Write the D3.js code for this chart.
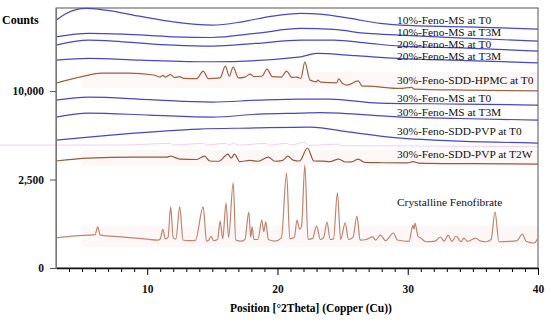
<!DOCTYPE html>
<html>
<head>
<meta charset="utf-8">
<script src="https://cdn.jsdelivr.net/npm/d3@7/dist/d3.min.js"></script>
<style>
  body { margin: 0; background: #fff; }
  svg { display: block; }
  text { font-family: "Liberation Serif", "Times New Roman", serif; }
</style>
</head>
<body>
<div id="chart"></div>
<script>
// ---- data: [2theta, counts] ----
const feno10T0 = [[3.0,19630],[3.8,20710],[5.3,21530],[6.8,21250],[9.4,20270],[12.0,19370],[15.0,18850],[17.3,19370],[19.6,20270],[21.8,20710],[23.3,20590],[25.6,19900],[27.9,19110],[29.4,18850],[34.5,18590],[40.0,18230]];
const feno10T3M = [[3.0,17080],[5.5,17580],[8.1,17480],[12.0,17080],[15.0,16980],[18.3,17580],[21.8,18340],[24.3,18180],[26.9,17580],[29.4,17330],[34.5,16880],[40.0,16440]];
const feno20T0 = [[3.0,15870],[5.5,16590],[8.1,16350],[12.0,15870],[15.0,15730],[18.3,16110],[21.8,16590],[24.3,16590],[26.9,16160],[29.4,15730],[34.5,15450],[40.0,15030]];
const feno20T3M = [[3.0,13810],[5.5,14040],[9.4,13810],[15.0,13590],[21.8,14250],[23.0,14710],[26.0,14400],[29.2,14040],[34.5,13750],[40.0,13450]];
const hpmcT0 = [[3.0,10920],[5.0,11700],[6.5,12140],[8.5,12140],[10.5,11900],[11.0,11650],[11.2,11850],[11.4,11650],[11.8,11950],[12.1,11600],[12.5,11700],[12.8,11500],
  [13.8,11450],[14.3,12390],[14.7,11450],[15.6,11550],[16.0,13020],[16.3,11750],[16.6,12900],[17.0,11550],[17.5,11650],[17.9,12010],[18.2,11700],[18.8,11750],[19.2,12640],
  [19.6,11700],[20.3,11650],[20.7,12390],[21.1,11600],[21.5,11650],[21.8,11500],[22.1,13540],[22.5,11280],[23.0,11080],[23.1,11280],[23.3,11050],[24.55,10960],[24.7,11420],
  [25.0,10880],[25.35,10690],[26.2,11200],[26.5,10570],[26.9,10570],[29.4,10300],[30.3,10420],[30.5,10230],[34.5,10110],[40.0,10030]];
const feno30T0 = [[3.0,9010],[5.5,9330],[10.2,9060],[15.0,8800],[18.6,9010],[21.8,9120],[24.0,9120],[27.8,8690],[34.0,8590],[40.0,8480]];
const feno30T3M = [[3.0,7280],[5.5,7670],[10.2,7470],[15.0,7280],[18.6,7570],[21.8,7670],[23.3,7720],[29.4,7280],[34.0,7140],[40.0,6990]];
const pvpT0 = [[3.0,5230],[5.5,5480],[8.1,5730],[14.0,6170],[17.9,6260],[22.5,6350],[25.6,5900],[28.6,5480],[34.0,5150],[40.0,4990]];
const pvpT2W = [[3.0,3660],[5.5,3860],[9.0,3930],[11.5,3930],[11.8,4000],[12.5,3790],[13.8,3760],[14.4,4000],[14.8,3660],[15.5,3640],[16.2,4150],[16.45,3850],[16.7,4150],
  [17.1,3620],[17.9,3700],[18.5,3640],[19.3,3930],[19.8,3640],[20.4,3700],[20.8,4000],[21.2,3720],[21.7,3660],[22.3,4600],[22.8,3660],[23.5,3650],[24.0,3620],[24.7,3790],
  [25.2,3590],[25.7,3600],[26.2,3790],[26.7,3560],[28.0,3540],[30.0,3530],[30.4,3620],[30.8,3520],[35.0,3480],[40.0,3450]];
const crystalline = [[3.0,290],[4.5,330],[6.0,355],[6.2,540],[6.4,345],[8.0,310],[10.0,265],[10.8,250],[11.0,270],[11.2,480],[11.4,270],[11.6,300],[11.8,1190],[12.0,290],
  [12.2,270],[12.5,1190],[12.75,250],[13.2,240],[13.7,245],[14.3,1190],[14.55,230],[14.7,240],[14.9,320],[15.1,240],[15.4,260],[15.6,700],[15.8,270],[16.05,1350],[16.25,300],
  [16.6,2310],[16.8,250],[17.2,230],[17.5,260],[17.8,1000],[17.95,300],[18.05,540],[18.2,260],[18.5,260],[18.8,735],[18.95,420],[19.1,680],[19.3,260],[19.8,230],[20.3,290],
  [20.7,2880],[20.95,270],[21.3,300],[21.5,735],[21.7,480],[21.85,560],[22.1,3390],[22.35,260],[22.7,280],[23.0,560],[23.3,260],[23.55,300],[23.8,675],[24.05,260],[24.3,270],
  [24.6,1800],[24.85,260],[25.2,650],[25.45,260],[25.8,300],[26.1,860],[26.35,250],[26.8,260],[27.3,310],[27.55,250],[27.9,347],[28.3,240],[28.9,391],[29.2,250],[30.1,225],
  [30.4,590],[30.48,480],[30.55,646],[30.8,313],[31.0,287],[31.4,220],[32.1,230],[32.5,307],[32.8,230],[33.1,347],[33.4,225],[33.7,327],[34.1,220],[34.3,287],[34.6,225],
  [35.2,287],[35.6,230],[36.0,220],[36.4,260],[36.7,1010],[37.0,220],[37.8,225],[38.4,240],[38.8,369],[39.1,225],[39.7,200],[40.0,287]];
// faint pink trace that runs out past the left axis
const pinkGhost = [[-1.3,4830],[3.0,4830],[8.0,4830],[11.8,4960],[12.0,4830],[14.3,4960],[14.5,4830],[16.0,4960],[16.3,4830],[16.6,5000],[17.0,4830],
  [19.1,4960],[19.4,4830],[20.7,4960],[21.0,4830],[22.1,5050],[22.4,4800],[24.6,4900],[25.0,4780],[30.0,4760],[40.0,4700]];

const seriesNames = ["10%-Feno-MS at T0", "10%-Feno-MS at T3M", "20%-Feno-MS at T0", "20%-Feno-MS at T3M",
  "30%-Feno-SDD-HPMC at T0", "30%-Feno-MS at T0", "30%-Feno-MS at T3M", "30%-Feno-SDD-PVP at T0",
  "30%-Feno-SDD-PVP at T2W", "Crystalline Fenofibrate"];
const seriesData = [feno10T0, feno10T3M, feno20T0, feno20T3M, hpmcT0, feno30T0, feno30T3M, pvpT0, pvpT2W, crystalline];
const yTicks = [0, 2500, 10000];
const xTicks = [10, 20, 30, 40];

// ---- drawing ----
const width = 550, height = 321;
const margin = {top: 8, right: 12, bottom: 53, left: 56};
const colors = ["#4646cc", "#4646cc", "#4646cc", "#4646cc", "#a2603f", "#4646cc", "#4646cc", "#4646cc", "#8e5d3e", "#c0846e"];
const labelBaseline = [23.5, 35.5, 47.5, 60, 84, 102, 116, 135, 158, 206];

const svg = d3.select("#chart").append("svg")
  .attr("width", width)
  .attr("height", height);

const x = d3.scaleLinear().domain([3, 40]).range([margin.left, width - margin.right]);
const y = d3.scaleSqrt().domain([0, 21600]).range([height - margin.bottom, margin.top]);

// soft pink haze behind the brown patterns (as in the scan)
const bands = [[hpmcT0, 72, 88], [pvpT2W, 150, 166], [crystalline, 226, 247]];
svg.append("g").selectAll("rect")
  .data(bands)
  .join("rect")
  .attr("x", x(5)).attr("y", d => d[1])
  .attr("width", x(40) - x(5)).attr("height", d => d[2] - d[1])
  .attr("fill", "#fef7f8");

const line = d3.line()
  .x(d => x(d[0]))
  .y(d => y(d[1]))
  .curve(d3.curveMonotoneX);

svg.append("path")
  .attr("d", line(pinkGhost))
  .attr("fill", "none")
  .attr("stroke", "#f8cdee")
  .attr("stroke-width", 1);

// frame
svg.append("rect")
  .attr("x", margin.left).attr("y", margin.top)
  .attr("width", width - margin.left - margin.right)
  .attr("height", height - margin.top - margin.bottom)
  .attr("fill", "none").attr("stroke", "#555").attr("stroke-width", 1);

svg.append("g").selectAll("path")
  .data(seriesData)
  .join("path")
  .attr("d", line)
  .attr("fill", "none")
  .attr("stroke", (d, i) => colors[i])
  .attr("stroke-width", 1.2);

svg.append("g").selectAll("text")
  .data(seriesNames)
  .join("text")
  .attr("x", 397)
  .attr("y", (d, i) => labelBaseline[i])
  .attr("font-size", "11.4px")
  .attr("fill", "#111")
  .text(d => d);

// x axis
const xMinor = d3.range(4, 40, 1).filter(v => v % 10 !== 0);
svg.append("g")
  .attr("transform", `translate(0,${height - margin.bottom})`)
  .call(d3.axisBottom(x).tickValues(xMinor).tickSize(4).tickFormat(""))
  .call(g => g.select(".domain").remove());
const xAxis = svg.append("g")
  .attr("transform", `translate(0,${height - margin.bottom})`)
  .call(d3.axisBottom(x).tickValues(xTicks).tickSize(7).tickSizeOuter(0).tickPadding(10));
xAxis.select(".domain").attr("stroke", "#111").attr("stroke-width", 1.3);
xAxis.selectAll("text").attr("font-size", "11.5px").attr("font-weight", "bold")
  .attr("font-family", "'Liberation Serif', serif").attr("fill", "#111");

// y axis
const yAxis = svg.append("g")
  .attr("transform", `translate(${margin.left},0)`)
  .call(d3.axisLeft(y).tickValues(yTicks).tickFormat(d3.format(",")).tickSize(6).tickSizeOuter(0).tickPadding(6));
yAxis.select(".domain").attr("stroke", "#777");
yAxis.selectAll(".tick line").attr("stroke", "#555");
yAxis.selectAll("text").attr("font-size", "11.5px").attr("font-weight", "bold")
  .attr("font-family", "'Liberation Serif', serif").attr("fill", "#111");

svg.append("text")
  .attr("x", 2).attr("y", 24)
  .attr("font-size", "12px").attr("font-weight", "bold")
  .text("Counts");

svg.append("text")
  .attr("x", 311).attr("y", 312)
  .attr("text-anchor", "middle")
  .attr("font-size", "11.5px").attr("font-weight", "bold")
  .text("Position [°2Theta] (Copper (Cu))");
</script>
</body>
</html>
